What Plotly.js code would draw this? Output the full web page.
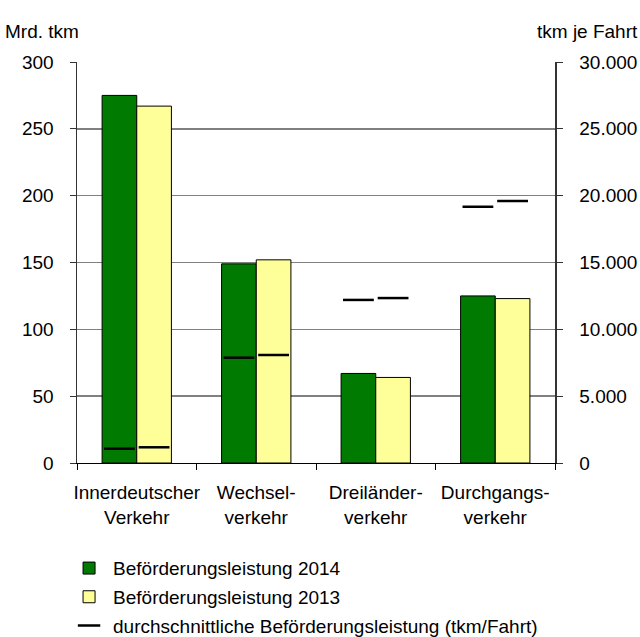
<!DOCTYPE html>
<html>
<head>
<meta charset="utf-8">
<script src="https://cdn.plot.ly/plotly-3.0.1.min.js"></script>
<style>html,body{margin:0;padding:0;background:#fff;}#chart{width:640px;height:637px;}</style>
</head>
<body>
<div id="chart"></div>
<script>
const categories = ["Innerdeutscher<br>Verkehr", "Wechsel-<br>verkehr", "Dreiländer-<br>verkehr", "Durchgangs-<br>verkehr"];
const leistung2014 = [275, 149, 67, 125];
const leistung2013 = [267, 152, 64, 123];
const tkmJeFahrt2014 = [1070, 7880, 12200, 19170];
const tkmJeFahrt2013 = [1175, 8080, 12340, 19600];
const leftTicks = [0, 50, 100, 150, 200, 250, 300];
const rightTicks = [0, 5000, 10000, 15000, 20000, 25000, 30000];
const rightTickText = ["0", "5.000", "10.000", "15.000", "20.000", "25.000", "30.000"];

const font = {family: "Liberation Sans, Arial, sans-serif", size: 19, color: "#000"};

const traces = [
  {type: "bar", name: "Beförderungsleistung 2014", x: categories, y: leistung2014,
   marker: {color: "#007A00", line: {color: "#000", width: 1}}, offsetgroup: "a", legendgroup: "g1"},
  {type: "bar", name: "Beförderungsleistung 2013", x: categories, y: leistung2013,
   marker: {color: "#FFFF99", line: {color: "#000", width: 1}}, offsetgroup: "b", legendgroup: "g2"},
  {type: "scatter", mode: "markers", name: "durchschnittliche Beförderungsleistung (tkm/Fahrt)",
   x: categories, y: tkmJeFahrt2014, yaxis: "y2", offsetgroup: "a", legendgroup: "g3",
   marker: {symbol: "line-ew", size: 22, line: {color: "#000", width: 2.5}}, showlegend: true},
  {type: "scatter", mode: "markers", name: "tkm 2013", x: categories, y: tkmJeFahrt2013,
   yaxis: "y2", offsetgroup: "b", legendgroup: "g3",
   marker: {symbol: "line-ew", size: 22, line: {color: "#000", width: 2.5}}, showlegend: false}
];

const layout = {
  width: 640, height: 637,
  margin: {l: 77, r: 85, t: 62, b: 174, autoexpand: false},
  paper_bgcolor: "#fff", plot_bgcolor: "#fff",
  font: font,
  barmode: "group", bargap: 0.42, bargroupgap: 0,
  scattermode: "group", scattergap: 0.42,
  showlegend: true,
  legend: {x: -0.025, xanchor: "left", y: -0.215, yanchor: "top", font: font, itemwidth: 38,
           tracegroupgap: 1, bgcolor: "rgba(0,0,0,0)"},
  xaxis: {type: "category", showline: true, linecolor: "#000", linewidth: 1, tickangle: 0,
          ticks: "outside", tickson: "boundaries", ticklen: 6, tickcolor: "#000",
          showgrid: false, tickfont: font, zeroline: false, ticklabelstandoff: 12},
  yaxis: {range: [0, 300], tickvals: leftTicks, ticks: "outside", ticklen: 6, tickcolor: "#333",
          showline: true, linecolor: "#333", linewidth: 1.5, gridcolor: "#808080", gridwidth: 1.5,
          zeroline: false, tickfont: font, ticklabelstandoff: 12},
  yaxis2: {range: [0, 30000], overlaying: "y", side: "right", tickvals: rightTicks,
           ticktext: rightTickText, ticks: "outside", ticklen: 6, tickcolor: "#333",
           showline: true, linecolor: "#333", linewidth: 1.5, showgrid: false, zeroline: false,
           tickfont: font, ticklabelstandoff: 13},
  annotations: [
    {text: "Mrd. tkm", xref: "paper", yref: "paper", x: -0.155, y: 1.045, xanchor: "left",
     yanchor: "bottom", showarrow: false, font: font},
    {text: "tkm je Fahrt", xref: "paper", yref: "paper", x: 1.178, y: 1.045, xanchor: "right",
     yanchor: "bottom", showarrow: false, font: font}
  ]
};

Plotly.newPlot("chart", traces, layout, {staticPlot: true});
</script>
</body>
</html>
